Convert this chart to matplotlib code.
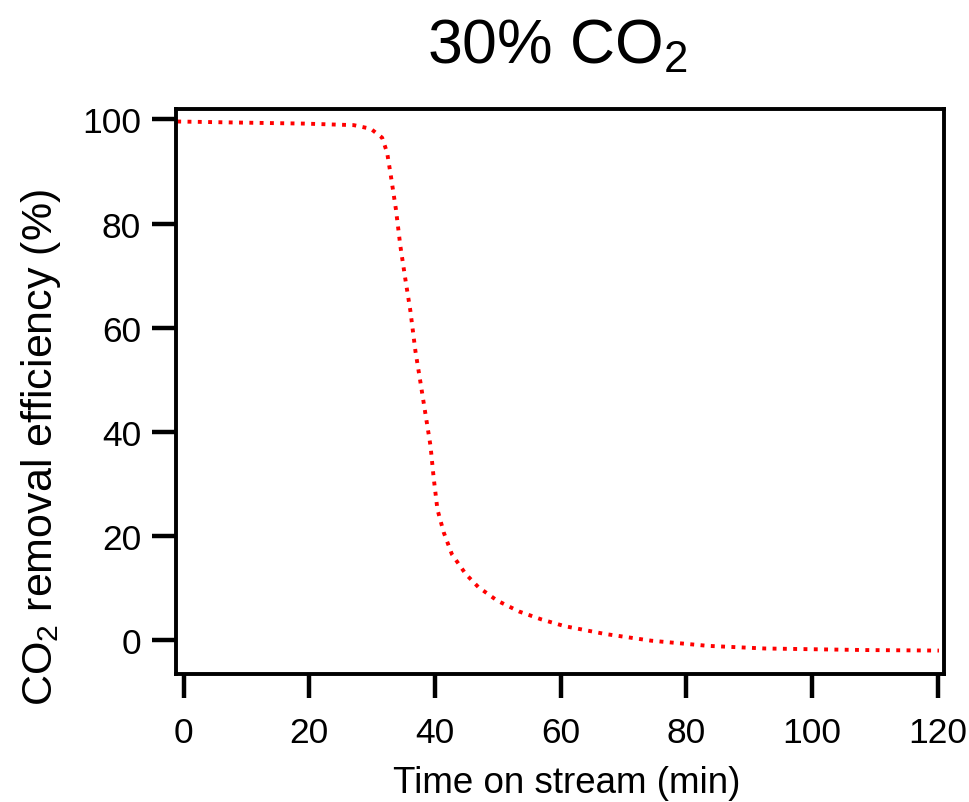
import matplotlib
matplotlib.use("Agg")
import matplotlib.pyplot as plt

# valores (tempo em min, eficiência em %)
tempo = [-1.0, 8.6, 19.2, 27.1, 29.8, 31.6, 32.4, 33.0, 33.8, 34.5, 35.3, 36.1,
         36.9, 37.7, 38.5, 39.3, 39.8, 40.4, 41.4, 42.7, 44.9, 46.9, 49.9, 53.4,
         56.9, 60.6, 67.0, 74.4, 83.5, 92.5, 108.5, 120.2]
eficiencia = [99.6, 99.4, 99.2, 98.9, 98.2, 96.5, 93.6, 89.1, 82.7, 75.7, 69.3, 63.2,
              55.5, 49.5, 43.4, 37.3, 31.2, 25.1, 20.7, 16.5, 12.7, 10.2, 7.6, 5.5,
              4.0, 2.7, 1.2, -0.1, -1.1, -1.6, -1.9, -2.0]
xticks = [0, 20, 40, 60, 80, 100, 120]
yticks = [0, 20, 40, 60, 80, 100]

plt.rcParams["font.family"] = ["Liberation Sans", "DejaVu Sans"]
plt.rcParams["mathtext.fontset"] = "custom"
plt.rcParams["mathtext.rm"] = "Liberation Sans"
plt.rcParams["mathtext.it"] = "Liberation Sans"

fig = plt.figure(figsize=(9.69, 8.03), dpi=100)
ax = fig.add_axes([0.1816, 0.1594, 0.7926, 0.7036])

ax.plot(tempo, eficiencia, color="#ff0000", linestyle=":", linewidth=2.8)

ax.set_xlim(-1.2, 121)
ax.set_ylim(-6.5, 102)
ax.set_xticks(xticks)
ax.set_yticks(yticks)

for s in ax.spines.values():
    s.set_linewidth(2.8)
ax.tick_params(axis="both", direction="out", length=17, width=3.2, labelsize=25.5)
ax.tick_params(axis="x", pad=13)
ax.tick_params(axis="y", pad=8)

fig.text(0.5755, 0.9215, "30% CO$_2$", fontsize=45, ha="center", va="baseline")
fig.text(0.585, 0.0125, "Time on stream (min)", fontsize=26.5, ha="center", va="baseline")
fig.text(0.042, 0.443, "CO$_2$ removal efficiency (%)", fontsize=31, rotation=90,
         ha="center", va="center")

fig.savefig("out.png", dpi=100)
